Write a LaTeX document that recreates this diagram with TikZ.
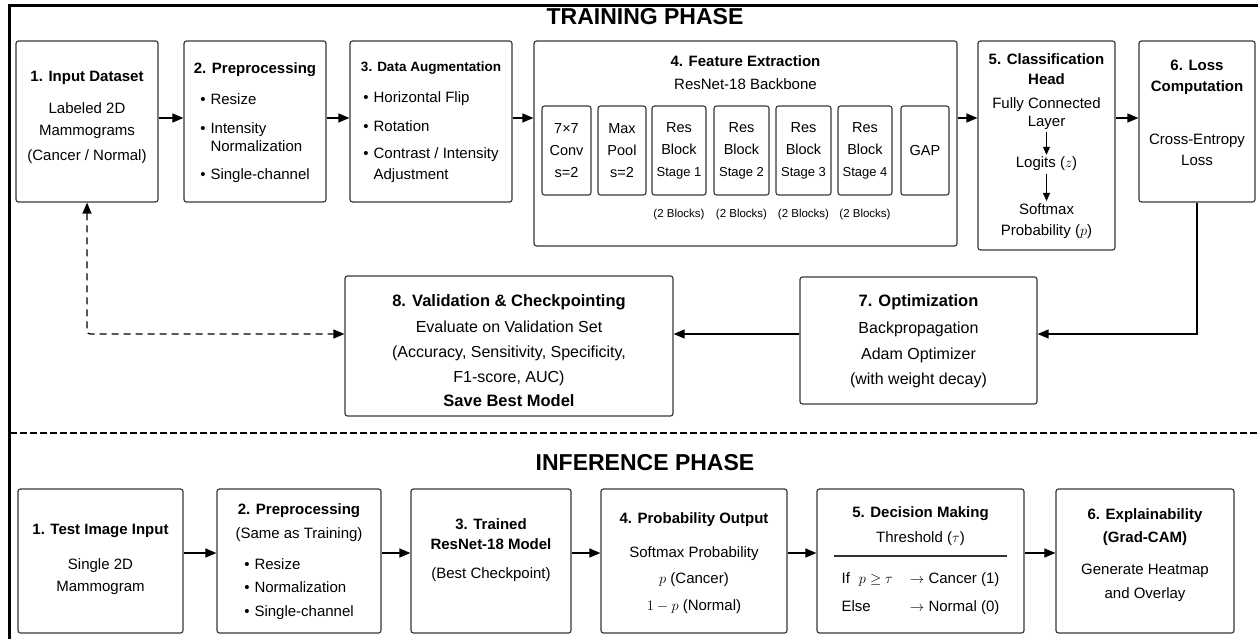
\documentclass[tikz,border=0pt]{standalone}
\usepackage{fontspec}
\setmainfont{Liberation Sans}
\usetikzlibrary{arrows.meta,positioning}

\newcommand{\hdf}{\bfseries\fontsize{15}{22}\selectfont}
\newcommand{\hdfb}{\bfseries\fontsize{16.5}{22}\selectfont}
\newcommand{\stgf}{\fontsize{13}{22}\selectfont}

\tikzset{
  box/.style={draw=black!78, line width=1.2pt, rounded corners=2.5pt, inner sep=0pt},
  blk/.style={box, line width=1.1pt, minimum height=89pt, align=center, font=\fontsize{14.5}{22}\selectfont},
  txt/.style={anchor=north, align=center, inner sep=0pt, font=\fontsize{15}{22}\selectfont},
  bigtxt/.style={txt, font=\fontsize{16}{22}\selectfont},
  lbl/.style={inner sep=0pt, font=\fontsize{15}{22}\selectfont},
  note/.style={inner sep=0pt, font=\fontsize{11.5}{14}\selectfont},
  phase/.style={inner sep=0pt, font=\bfseries\fontsize{23}{26}\selectfont},
  arr/.style={-{Triangle[length=11pt,width=9pt]}, line width=1.3pt},
  sarr/.style={-{Triangle[length=8pt,width=7pt]}, line width=1.2pt, shorten <=3pt, shorten >=2pt},
  darr/.style={{Triangle[length=11pt,width=9pt]}-{Triangle[length=11pt,width=9pt]}, line width=1.3pt, dash pattern=on 7pt off 5pt, rounded corners=3pt},
  sep/.style={line width=1.3pt, dash pattern=on 6.5pt off 3.5pt},
}

\begin{document}
\begin{tikzpicture}[x=1pt,y=-1pt]
    \useasboundingbox (0,0) rectangle (1258,639);
    \draw[line width=3pt] (9,639) -- (9,5.5) -- (1258,5.5);
    \coordinate (row1) at (0,118);
    \coordinate (row2) at (0,334);
    \coordinate (row3) at (0,553);

    % training
    \node[phase] (train) at (645,17) {TRAINING PHASE};

    \node[box, minimum width=142pt, minimum height=161pt] (dataset) at (87,121.5) {};
    \node[txt] (dataset-t) at (87,71)
        {{\hdf 1. Input Dataset}\\[10pt] Labeled 2D\\ Mammograms\\[3pt] (Cancer / Normal)};

    \node[box, minimum width=142pt, minimum height=161pt] (prep) at (255,121.5) {};
    \node[txt] (prep-t) at (255,62)
        {{\hdf 2. Preprocessing}\\[9pt]
        \begin{tabular}[t]{@{}l@{\hspace{5pt}}l@{}}
        \textbullet & Resize\\[7pt]
        \textbullet & Intensity\\[-4pt]
                    & Normalization\\[6pt]
        \textbullet & Single-channel
        \end{tabular}};

    \node[box, minimum width=162pt, minimum height=161pt] (aug) at (431,121.5) {};
    \node[txt] (aug-t) at (431,62)
        {{\hdf\fontsize{13.5}{22}\selectfont 3. Data Augmentation}\\[9pt]
        \begin{tabular}[t]{@{}l@{\hspace{5pt}}l@{}}
        \textbullet & Horizontal Flip\\[7pt]
        \textbullet & Rotation\\[5pt]
        \textbullet & Contrast / Intensity\\[-1pt]
                    & Adjustment
        \end{tabular}};

    \node[box, minimum width=423pt, minimum height=205pt] (feat) at (745.5,143.5) {};
    \node[lbl, font=\hdf] (feat-t) at (745.5,61) {4. Feature Extraction};
    \node[lbl] (feat-s) at (745.5,84) {ResNet-18 Backbone};
    \node[blk, minimum width=49pt] (conv) at (566.5,150.5) {7×7\\Conv\\s=2};
    \node[blk, minimum width=48pt] (pool) at (622,150.5) {Max\\Pool\\s=2};
    \node[blk, minimum width=54pt] (res1) at (679,150.5) {Res\\Block\\{\stgf Stage 1}};
    \node[blk, minimum width=55pt] (res2) at (741.5,150.5) {Res\\Block\\{\stgf Stage 2}};
    \node[blk, minimum width=55pt] (res3) at (803.5,150.5) {Res\\Block\\{\stgf Stage 3}};
    \node[blk, minimum width=54pt] (res4) at (865,150.5) {Res\\Block\\{\stgf Stage 4}};
    \node[blk, minimum width=48pt] (gap) at (925,150.5) {GAP};
    \node[note] (res1-n) at (679,215) {(2 Blocks)};
    \node[note] (res2-n) at (741.5,215) {(2 Blocks)};
    \node[note] (res3-n) at (803.5,215) {(2 Blocks)};
    \node[note] (res4-n) at (865,215) {(2 Blocks)};

    \node[box, minimum width=137pt, minimum height=209pt] (head) at (1046.5,145.5) {};
    \node[txt] (head-t) at (1046.5,53) {{\hdf 5. Classification}\\[-2pt]{\hdf Head}};
    \node[txt] (fc) at (1046.5,97) {Fully Connected\\[-4pt] Layer};
    \node[lbl] (logits) at (1046.5,164) {Logits ($z$)};
    \node[txt] (softmax) at (1046.5,203) {Softmax\\[-1pt] Probability ($p$)};
    \draw[sarr] (fc) -- (logits);
    \draw[sarr] (logits) -- (softmax);

    \node[box, minimum width=116pt, minimum height=161pt] (loss) at (1197,121.5) {};
    \node[txt] (loss-t) at (1197,60) {{\hdf 6. Loss}\\[-1pt]{\hdf Computation}};
    \node[txt] (loss-b) at (1197,134) {Cross-Entropy\\[-1pt] Loss};

    \node[box, minimum width=237pt, minimum height=127pt] (opt) at (918.5,340.5) {};
    \node[bigtxt] (opt-t) at (918.5,294)
        {{\hdfb 7. Optimization}\\[5pt] Backpropagation\\[4pt] Adam Optimizer\\[3pt] (with weight decay)};

    \node[box, minimum width=328pt, minimum height=140pt] (val) at (509,346) {};
    \node[bigtxt] (val-t) at (509,294)
        {{\hdfb 8. Validation \& Checkpointing}\\[4pt] Evaluate on Validation Set\\[3pt]
        (Accuracy, Sensitivity, Specificity,\\[3pt] F1-score, AUC)\\[2pt]{\hdfb Save Best Model}};

    \draw[arr] (dataset.east |- row1) -- (prep.west |- row1);
    \draw[arr] (prep.east |- row1) -- (aug.west |- row1);
    \draw[arr] (aug.east |- row1) -- (feat.west |- row1);
    \draw[arr] (feat.east |- row1) -- (head.west |- row1);
    \draw[arr] (head.east |- row1) -- (loss.west |- row1);
    \draw[arr] (loss.south) |- (opt.east |- row2);
    \draw[arr] (opt.west |- row2) -- (val.east |- row2);
    \draw[darr] (dataset.south) |- (val.west |- row2);

    \draw[sep] (10,433) -- (1258,433);

    % inference
    \node[phase] (infer) at (645,463) {INFERENCE PHASE};

    \node[box, minimum width=165pt, minimum height=144pt] (test) at (100.5,561) {};
    \node[txt] (test-t) at (100.5,524) {{\hdf 1. Test Image Input}\\[13pt] Single 2D\\ Mammogram};

    \node[box, minimum width=164pt, minimum height=144pt] (iprep) at (299,561) {};
    \node[txt] (iprep-t) at (299,503)
        {{\hdf 2. Preprocessing}\\[2pt] (Same as Training)\\[9pt]
        \begin{tabular}[t]{@{}l@{\hspace{5pt}}l@{}}
        \textbullet & Resize\\[1pt]
        \textbullet & Normalization\\[2pt]
        \textbullet & Single-channel
        \end{tabular}\hspace{15pt}};

    \node[box, minimum width=160pt, minimum height=144pt] (model) at (491,561) {};
    \node[txt] (model-t) at (491,518)
        {{\hdf 3. Trained}\\[-2pt]{\hdf ResNet-18 Model}\\[7pt] (Best Checkpoint)};

    \node[box, minimum width=186pt, minimum height=144pt] (prob) at (694,561) {};
    \node[txt] (prob-t) at (694,512)
        {{\hdf 4. Probability Output}\\[12pt] Softmax Probability\\[4pt] $p$ (Cancer)\\[5pt] $1-p$ (Normal)};

    \node[box, minimum width=207pt, minimum height=144pt] (dec) at (920.5,561) {};
    \node[txt] (dec-t) at (920.5,506) {{\hdf 5. Decision Making}\\[3pt] Threshold ($\tau$)};
    \draw[line width=1.2pt, black!80] (834,556) -- (1007,556);
    \node[txt] (dec-r) at (920.5,568)
        {\begin{tabular}{@{}l@{\hspace{17pt}}l@{}}
        If\hspace{9pt}$p \geq \tau$ & $\rightarrow$ Cancer (1)\\[6pt]
        Else & $\rightarrow$ Normal (0)
        \end{tabular}};

    \node[box, minimum width=178pt, minimum height=144pt] (xai) at (1145,561) {};
    \node[txt] (xai-t) at (1145,508)
        {{\hdf 6. Explainability}\\[1pt]{\hdf (Grad-CAM)}\\[10pt] Generate Heatmap\\[2pt] and Overlay};

    \draw[arr] (test.east |- row3) -- (iprep.west |- row3);
    \draw[arr] (iprep.east |- row3) -- (model.west |- row3);
    \draw[arr] (model.east |- row3) -- (prob.west |- row3);
    \draw[arr] (prob.east |- row3) -- (dec.west |- row3);
    \draw[arr] (dec.east |- row3) -- (xai.west |- row3);
\end{tikzpicture}
\end{document}
